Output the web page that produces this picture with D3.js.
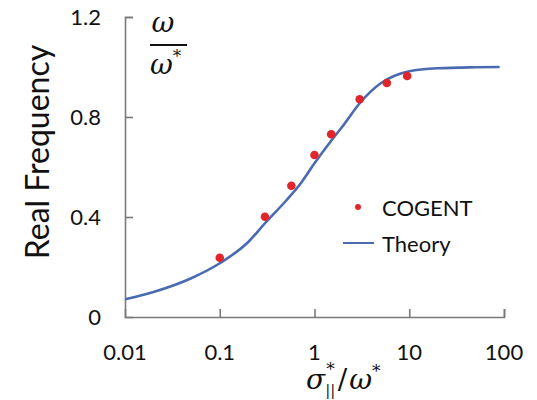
<!DOCTYPE html>
<html>
<head>
<meta charset="utf-8">
<script src="https://cdn.jsdelivr.net/npm/d3@7"></script>
<style>
    body { margin: 0; background: #fff; }
    svg { display: block; }
    .tick-label { font-family: Lato, "Open Sans", sans-serif; font-size: 22px; fill: #111; }
    .math { font-family: "DejaVu Serif", serif; font-style: italic; fill: #111; }
</style>
</head>
<body>
<svg id="chart"></svg>
<script>
    // theory curve
    var theoryX = [0.01, 0.02, 0.05, 0.1, 0.2, 0.3, 0.5, 0.7, 1, 1.5, 2, 3, 5, 7, 10, 20, 50, 90];
    var theoryY = [0.071, 0.100, 0.155, 0.215, 0.300, 0.375, 0.465, 0.530, 0.615, 0.705, 0.765, 0.855, 0.935, 0.965, 0.983, 0.995, 0.999, 1.0];

    // COGENT simulation points
    var cogentX = [0.1, 0.3, 0.57, 1, 1.5, 3, 5.8, 9.5];
    var cogentY = [0.237, 0.401, 0.525, 0.648, 0.731, 0.871, 0.936, 0.964];

    var xTicks = [0.01, 0.1, 1, 10, 100];
    var xTickLabels = ['0.01', '0.1', '1', '10', '100'];
    var yTicks = [0, 0.4, 0.8, 1.2];
    var yTickLabels = ['0', '0.4', '0.8', '1.2'];

    var legendNames = ['COGENT', 'Theory'];

    var config = {
        width: 537,
        height: 400,
        left: 125,
        right: 504,
        top: 17,
        bottom: 317,
        axisColor: '#7a7a7a',
        lineColor: '#4a6bb0',
        dotColor: '#e0262b'
    };

    var svg = d3.select('#chart')
        .attr('width', config.width)
        .attr('height', config.height);

    var x = d3.scaleLog().domain([0.01, 100]).range([config.left, config.right]);
    var y = d3.scaleLinear().domain([0, 1.2]).range([config.bottom, config.top]);

    // axes (ticks point inward)
    var xAxis = svg.append('g')
        .attr('transform', 'translate(0,' + config.bottom + ')')
        .call(d3.axisBottom(x).tickValues(xTicks).tickSize(-8).tickFormat(''));
    var yAxis = svg.append('g')
        .attr('transform', 'translate(' + config.left + ',0)')
        .call(d3.axisLeft(y).tickValues(yTicks).tickSize(-8).tickFormat(''));

    [xAxis, yAxis].forEach(function (ax) {
        ax.select('.domain').attr('stroke', config.axisColor).attr('stroke-width', 1.6);
        ax.selectAll('.tick line').attr('stroke', config.axisColor).attr('stroke-width', 1.6);
    });
    // drop the tick at the origin corner
    yAxis.selectAll('.tick').filter(function (d) { return d === 0; }).select('line').remove();
    xAxis.selectAll('.tick').filter(function (d) { return d === 0.01; }).select('line').remove();

    svg.append('g').selectAll('text')
        .data(xTicks).enter()
        .append('text')
        .attr('class', 'tick-label')
        .attr('x', function (d) { return x(d); })
        .attr('y', 360)
        .attr('text-anchor', 'middle')
        .text(function (d, i) { return xTickLabels[i]; });

    svg.append('g').selectAll('text')
        .data(yTicks).enter()
        .append('text')
        .attr('class', 'tick-label')
        .attr('x', 101)
        .attr('y', function (d) { return y(d); })
        .attr('dy', '0.36em')
        .attr('text-anchor', 'end')
        .text(function (d, i) { return yTickLabels[i]; });

    // theory line
    var theory = theoryX.map(function (d, i) { return [d, theoryY[i]]; });
    svg.append('path')
        .datum(theory)
        .attr('fill', 'none')
        .attr('stroke', config.lineColor)
        .attr('stroke-width', 2.6)
        .attr('d', d3.line()
            .x(function (d) { return x(d[0]); })
            .y(function (d) { return y(d[1]); })
            .curve(d3.curveMonotoneX));

    // COGENT dots
    svg.append('g').selectAll('circle')
        .data(cogentX).enter()
        .append('circle')
        .attr('cx', function (d) { return x(d); })
        .attr('cy', function (d, i) { return y(cogentY[i]); })
        .attr('r', 4.3)
        .attr('fill', config.dotColor);

    // legend
    var legend = svg.append('g');
    legend.append('circle')
        .attr('cx', 358).attr('cy', 207).attr('r', 3)
        .attr('fill', config.dotColor);
    legend.append('line')
        .attr('x1', 343).attr('x2', 374).attr('y1', 243).attr('y2', 243)
        .attr('stroke', config.lineColor).attr('stroke-width', 2);
    legend.selectAll('text')
        .data(legendNames).enter()
        .append('text')
        .attr('class', 'tick-label')
        .attr('x', 382)
        .attr('y', function (d, i) { return 216 + i * 36; })
        .text(function (d) { return d; });

    // y axis title
    svg.append('text')
        .attr('transform', 'translate(49,152) rotate(-90)')
        .attr('text-anchor', 'middle')
        .style('font-family', 'Lato, "Open Sans", sans-serif')
        .style('font-size', '32px')
        .style('fill', '#111')
        .text('Real Frequency');

    // omega / omega* fraction
    var frac = svg.append('g').attr('class', 'math').style('font-size', '28px');
    frac.append('text').attr('x', 163).attr('y', 32).attr('text-anchor', 'middle').text('ω');
    frac.append('line')
        .attr('x1', 150).attr('x2', 187).attr('y1', 45).attr('y2', 45)
        .attr('stroke', '#111').attr('stroke-width', 2);
    var den = frac.append('text').attr('x', 150).attr('y', 74);
    den.append('tspan').text('ω');
    den.append('tspan').attr('dy', -12).style('font-size', '17px').style('font-style', 'normal').text('*');

    // x axis title
    var xt = svg.append('text').attr('class', 'math')
        .attr('x', 306).attr('y', 389)
        .style('font-size', '28px');
    xt.append('tspan').text('σ');
    xt.append('tspan').attr('dy', 6).style('font-size', '15px').style('font-style', 'normal').text('||');
    xt.append('tspan').attr('dx', -9).attr('dy', -20).style('font-size', '17px').style('font-style', 'normal').text('*');
    xt.append('tspan').attr('dx', 3).attr('dy', 14).style('font-style', 'normal').text('/');
    xt.append('tspan').attr('dx', 2).text('ω');
    xt.append('tspan').attr('dy', -12).style('font-size', '17px').style('font-style', 'normal').text('*');
</script>
</body>
</html>
